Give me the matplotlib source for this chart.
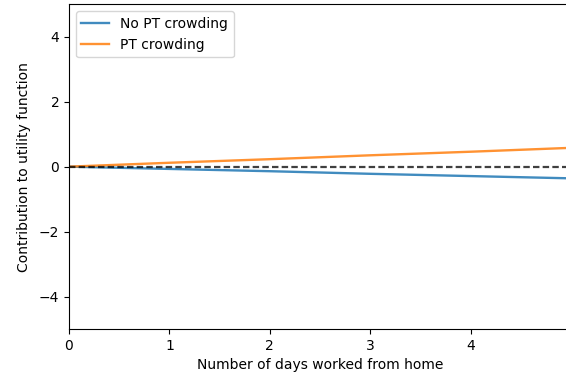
import matplotlib
matplotlib.use("Agg")
import matplotlib.pyplot as plt

# days worked from home and the matching utility contributions
days = [0, 1, 2, 3, 4, 5]
no_crowding = [0.0, -0.07, -0.14, -0.22, -0.29, -0.36]
crowding = [0.0, 0.12, 0.23, 0.35, 0.46, 0.58]
baseline = [0, 0, 0, 0, 0, 0]

fig = plt.figure(figsize=(5.66, 3.78), dpi=100)
# axes run a little past the right edge of the figure
ax = fig.add_axes([0.1219, 0.1296, 0.8869, 0.8590])

ax.plot(days, no_crowding, label="No PT crowding", lw=1.7, alpha=0.85)
ax.plot(days, crowding, label="PT crowding", lw=1.7, alpha=0.85)
ax.plot(days, baseline, color="k", ls="--", dashes=(2.9, 1.45), lw=1.6, alpha=0.75)

ax.set_xlim(0, 5)
ax.set_ylim(-5, 5)
ax.set_xlabel("Number of days worked from home")
ax.set_ylabel("Contribution to utility function", labelpad=6)
ax.legend(loc="upper left")

fig.savefig("out.png", dpi=100)
